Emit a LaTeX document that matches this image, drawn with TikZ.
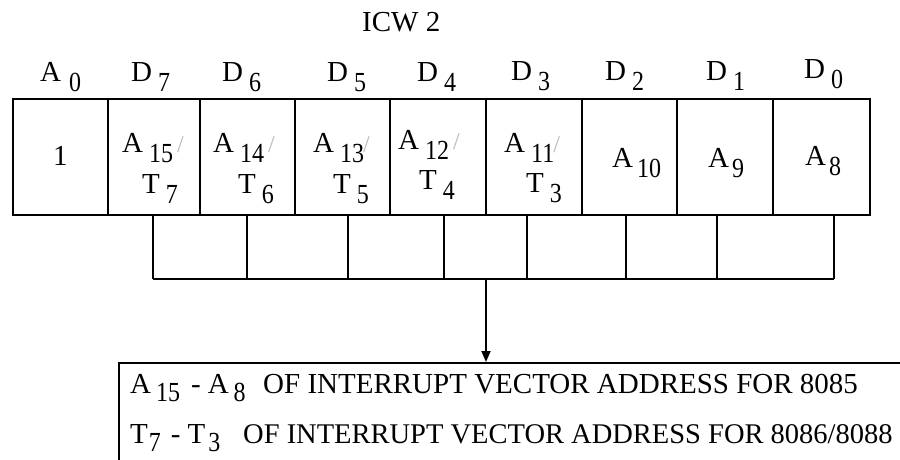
\documentclass[tikz,border=0pt]{standalone}
\usepackage{fontspec}
\usepackage{graphicx}
\setmainfont{Liberation Serif}
\usetikzlibrary{arrows.meta}
\definecolor{slashgray}{gray}{0.72}
\newcommand\mainf{\fontsize{29}{34}\selectfont}
\newcommand\subf{\fontsize{24}{28}\selectfont}
\newcommand\tallsub[1]{\scalebox{1}[1.15]{\subf #1}}
\newcommand\subs[3][6pt]{#2\hspace{#1}\raisebox{-10pt}{\tallsub{#3}}}
\newcommand\lowsub[3][5pt]{#2\hspace{#1}\raisebox{-8pt}{\tallsub{#3}}}
\newcommand\slsh{\hspace{4pt}{\color{slashgray}\subf /}}
\begin{document}
\begin{tikzpicture}[x=1pt,y=-1pt,
  txt/.style={inner sep=0pt, anchor=base west, font=\mainf},
  cell/.style={draw, line width=1.8pt, inner sep=0pt, anchor=north west, minimum height=116pt},
  wire/.style={line width=1.8pt},
  outbox/.style={draw, line width=1.8pt, inner sep=0pt, anchor=north west, minimum width=800pt, minimum height=120pt}]
\useasboundingbox (0,0) rectangle (900,459);

% title
\node[txt] (title) at (362,31) {ICW 2};

% header labels
\node[txt] (h0) at (40,81) {\subs[8pt]{A}{0}};
\node[txt] (h1) at (131,81) {\subs{D}{7}};
\node[txt] (h2) at (222,81) {\subs{D}{6}};
\node[txt] (h3) at (327,81) {\subs{D}{5}};
\node[txt] (h4) at (417,81) {\subs{D}{4}};
\node[txt] (h5) at (511,80) {\subs{D}{3}};
\node[txt] (h6) at (605,80) {\subs{D}{2}};
\node[txt] (h7) at (706,80) {\subs{D}{1}};
\node[txt] (h8) at (804,78) {\subs{D}{0}};

% register cells
\node[cell, minimum width=95pt] (c0) at (12,98) {};
\node[cell, minimum width=92pt] (c1) at (107,98) {};
\node[cell, minimum width=95pt] (c2) at (199,98) {};
\node[cell, minimum width=95pt] (c3) at (294,98) {};
\node[cell, minimum width=96pt] (c4) at (389,98) {};
\node[cell, minimum width=96pt] (c5) at (485,98) {};
\node[cell, minimum width=95pt] (c6) at (581,98) {};
\node[cell, minimum width=96pt] (c7) at (676,98) {};
\node[cell, minimum width=97pt] (c8) at (772,98) {};

% cell contents
\node[txt] (v0) at (53,165) {1};
\node[txt] (a1) at (122,152) {\subs{A}{15}\slsh};
\node[txt] (t1) at (142,193) {\subs{T}{7}};
\node[txt] (a2) at (213,152) {\subs{A}{14}\slsh};
\node[txt] (t2) at (238,193) {\subs{T}{6}};
\node[txt] (a3) at (313,152) {\subs{A}{13}\hspace{-1pt}{\color{slashgray}\subf /}};
\node[txt] (t3) at (333,193) {\subs{T}{5}};
\node[txt] (a4) at (398,149) {\subs{A}{12}\slsh};
\node[txt] (t4) at (419,189) {\subs{T}{4}};
\node[txt] (a5) at (504,152) {\subs{A}{11}\hspace{-1pt}{\color{slashgray}\subf /}};
\node[txt] (t5) at (526,192) {\subs{T}{3}};
\node[txt] (a6) at (612,167) {\subs[4pt]{A}{10}};
\node[txt] (a7) at (708,167) {\subs[3pt]{A}{9}};
\node[txt] (a8) at (805,165) {\subs[3pt]{A}{8}};

% collecting bracket
\foreach \i/\x in {1/153,2/247,3/348,4/444,5/527,6/626,7/717,8/834}{
  \coordinate (u\i) at (\x,214);
  \coordinate (b\i) at (\x,279);
  \draw[wire] (u\i) -- (b\i);
}
\draw[wire] (b1) -- (b8);
\coordinate (ar) at (486,279);

% output box
\node[outbox] (out) at (118,362) {};
\draw[wire, -{Triangle[length=11pt,width=9pt]}] (ar) -- (ar |- out.north);

% output texts
\node[txt] (l1a) at (130,393) {\lowsub{A}{15}\hspace{11pt}-\hspace{7pt}\lowsub{A}{8}};
\node[txt] (l1b) at (263,393) {OF INTERRUPT VECTOR ADDRESS FOR 8085};
\node[txt] (l2a) at (130,443) {\lowsub[1pt]{T}{7}\hspace{10pt}-\hspace{7pt}\lowsub[3pt]{T}{3}};
\node[txt, font=\fontsize{28.5}{34}\selectfont] (l2b) at (243,443) {OF INTERRUPT VECTOR ADDRESS FOR 8086/8088};
\end{tikzpicture}
\end{document}
